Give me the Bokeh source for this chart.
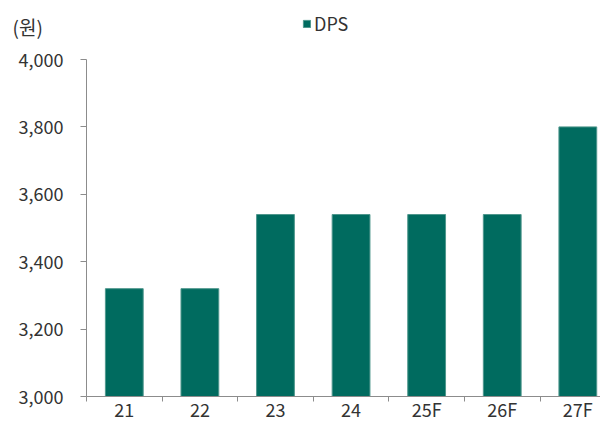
import numpy as np
from bokeh.plotting import figure
from bokeh.layouts import column
from bokeh.models import ColumnDataSource, FixedTicker, Range1d, Label, Legend, LegendItem, NumeralTickFormatter
from bokeh.embed import file_html
from bokeh.resources import INLINE

categories = ["21", "22", "23", "24", "25F", "26F", "27F"]
dps = [3320, 3320, 3540, 3540, 3540, 3540, 3800]
y_ticks = [3000, 3200, 3400, 3600, 3800, 4000]

FONT = "Noto Sans CJK KR"
TXT = "#333333"
AX = "#8c8c8c"
BAR = "#006b5f"
BAR_EDGE = "#4f978d"
HEAD_H = 40
W = 600

xpos = np.arange(len(categories)) + 0.5
src = ColumnDataSource(dict(x=xpos, top=dps, cat=categories))

# ---------- header (unit label + legend) ----------
head = figure(width=W, height=HEAD_H, output_backend="svg", toolbar_location=None,
              x_range=Range1d(0, W), y_range=Range1d(0, HEAD_H),
              min_border=0, min_border_left=0, min_border_right=0, min_border_top=0, min_border_bottom=0)
head.frame_align = False
head.axis.visible = False
head.grid.visible = False
head.outline_line_color = None
# legend proxy of the DPS series (hidden here; only its legend swatch is shown)
lr = head.vbar(x="x", top="top", bottom=3000, width=0.5, source=src,
               fill_color=BAR, line_color=BAR_EDGE)
lr.visible = False
head.add_layout(Label(x=12, y=HEAD_H - 12, x_units="data", y_units="data", text="(원)",
                      text_baseline="top", text_font=FONT, text_font_size="19px", text_color=TXT))
legend = Legend(items=[LegendItem(label="DPS", renderers=[lr])], location=(302, 4),
                glyph_width=9, glyph_height=9, label_standoff=3, padding=0, margin=0,
                label_text_font=FONT, label_text_font_size="18px", label_text_color=TXT,
                inactive_fill_alpha=0, click_policy="none",
                border_line_color=None, background_fill_alpha=0)
head.add_layout(legend, "center")

# ---------- main chart ----------
p = figure(width=W, height=424 - HEAD_H, output_backend="svg", toolbar_location=None,
           x_range=Range1d(0, 6.8), y_range=Range1d(3000, 4000),
           min_border_left=86, min_border_top=59 - HEAD_H, min_border_bottom=16, min_border_right=0)
p.frame_align = False
p.outline_line_color = None
p.xgrid.visible = False
p.ygrid.visible = False

p.vbar(x="x", top="top", bottom=3000, width=0.5, source=src,
       fill_color=BAR, line_color=BAR_EDGE, line_width=1)

# y axis
p.yaxis.ticker = FixedTicker(ticks=y_ticks)
p.yaxis.formatter = NumeralTickFormatter(format="0,0")
p.yaxis.axis_line_color = AX
p.yaxis.major_tick_line_color = AX
p.yaxis.major_tick_out = 6
p.yaxis.major_tick_in = 0
p.yaxis.minor_tick_line_color = None
p.yaxis.major_label_standoff = 17
p.yaxis.major_label_text_font = FONT
p.yaxis.major_label_text_font_size = "18px"
p.yaxis.major_label_text_color = TXT

# x axis
p.xaxis.ticker = FixedTicker(ticks=list(xpos), minor_ticks=list(range(len(categories) + 1)))
p.xaxis.major_label_overrides = {float(x): c for x, c in zip(xpos, categories)}
p.xaxis.axis_line_color = AX
p.xaxis.major_tick_line_color = None
p.xaxis.major_tick_out = 0
p.xaxis.major_tick_in = 0
p.xaxis.minor_tick_line_color = AX
p.xaxis.minor_tick_out = 5
p.xaxis.minor_tick_in = 0
p.xaxis.major_label_standoff = -6
p.xaxis.major_label_text_font = FONT
p.xaxis.major_label_text_font_size = "18px"
p.xaxis.major_label_text_color = TXT

layout = column(head, p, spacing=0)
open("out.html", "w").write(file_html(layout, INLINE))
